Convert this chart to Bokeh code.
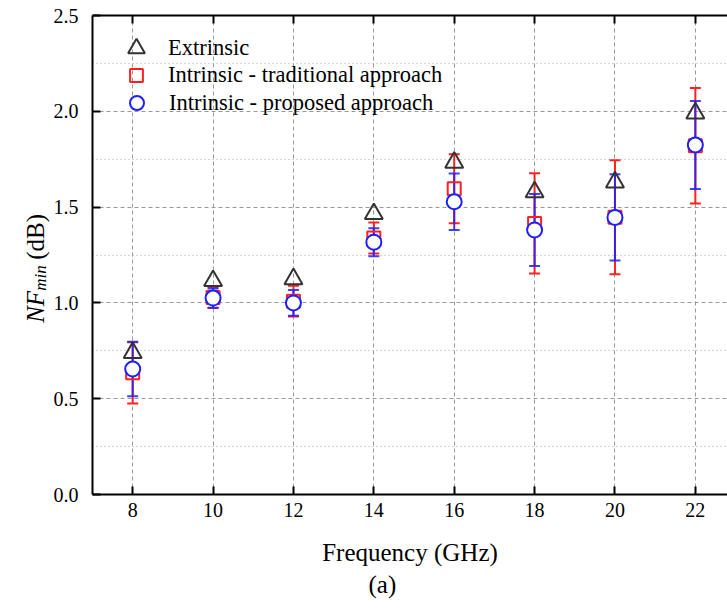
import numpy as np
from bokeh.plotting import figure
from bokeh.layouts import row
from bokeh.models import (Range1d, LinearAxis, FixedTicker, Whisker, TeeHead,
                          ColumnDataSource, Legend, LegendItem, Label, Title)
from bokeh.embed import file_html
from bokeh.resources import INLINE

# ---- data ----
freq = [8, 10, 12, 14, 16, 18, 20, 22]
extrinsic = [0.74, 1.115, 1.125, 1.465, 1.733, 1.578, 1.630, 1.990]
trad = [0.635, 1.028, 1.009, 1.339, 1.596, 1.415, 1.447, 1.820]
trad_err = [0.160, 0.055, 0.080, 0.081, 0.180, 0.262, 0.298, 0.301]
prop = [0.655, 1.025, 1.000, 1.317, 1.528, 1.381, 1.446, 1.824]
prop_err = [0.142, 0.050, 0.067, 0.073, 0.147, 0.188, 0.225, 0.230]

x_ticks = [8, 10, 12, 14, 16, 18, 20, 22]
y_ticks = [0.0, 0.5, 1.0, 1.5, 2.0, 2.5]
y_minor = [0.25, 0.75, 1.25, 1.75, 2.25]

RED = "#ff2020"
BLUE = "#2020ff"
BLACK = "#333333"
FONT = "Liberation Serif"
H = 606
BT, BB = 15, 112  # top / bottom borders

# ---- main plot ----
p = figure(width=677, height=H, x_range=Range1d(7.0, 22.8), y_range=Range1d(0, 2.5),
           output_backend="svg", toolbar_location=None,
           min_border_left=39, min_border_right=0, min_border_top=BT, min_border_bottom=BB)
p.outline_line_color = None
p.background_fill_color = "white"
p.border_fill_color = "white"

bottom = p.below[0]
left = p.left[0]
bottom.ticker = FixedTicker(ticks=x_ticks, minor_ticks=[])
left.ticker = FixedTicker(ticks=y_ticks, minor_ticks=y_minor)
left.major_label_overrides = {v: f"{v:.1f}" for v in y_ticks}

top = LinearAxis(ticker=FixedTicker(ticks=x_ticks, minor_ticks=[]),
                 major_label_text_font_size="0px", major_label_standoff=0,
                 major_label_overrides={v: "" for v in x_ticks})
p.add_layout(top, "above")

for ax in [bottom, left, top]:
    ax.axis_line_width = 2
    ax.axis_line_color = "black"
    ax.major_tick_line_width = 2
    ax.major_tick_line_color = "black"
    ax.major_tick_in = 8
    ax.major_tick_out = 0
    ax.minor_tick_line_color = None
    ax.major_label_text_font = FONT
    ax.major_label_text_color = "black"

for ax in [bottom, left]:
    ax.major_label_text_font_size = "20px"
left.major_label_standoff = 10
bottom.major_label_standoff = 8

bottom.axis_label = "Frequency (GHz)"
bottom.axis_label_text_font = FONT
bottom.axis_label_text_font_style = "normal"
bottom.axis_label_text_font_size = "25px"
bottom.axis_label_text_color = "black"
bottom.axis_label_standoff = 19

p.xgrid.grid_line_color = "#999999"
p.xgrid.grid_line_dash = "4 3"
p.ygrid.grid_line_color = "#999999"
p.ygrid.grid_line_dash = "4 3"
p.ygrid.minor_grid_line_color = "#aaaaaa"
p.ygrid.minor_grid_line_dash = "1 3"

# ---- error bars ----
src_t = ColumnDataSource(dict(x=freq,
                              upper=[v + e for v, e in zip(trad, trad_err)],
                              lower=[v - e for v, e in zip(trad, trad_err)]))
src_p = ColumnDataSource(dict(x=freq,
                              upper=[v + e for v, e in zip(prop, prop_err)],
                              lower=[v - e for v, e in zip(prop, prop_err)]))
p.add_layout(Whisker(base="x", upper="upper", lower="lower", source=src_t,
                     line_color=RED, line_width=2,
                     upper_head=TeeHead(size=11, line_color=RED, line_width=2),
                     lower_head=TeeHead(size=11, line_color=RED, line_width=2)))
p.add_layout(Whisker(base="x", upper="upper", lower="lower", source=src_p,
                     line_color=BLUE, line_width=2, line_alpha=0.85,
                     upper_head=TeeHead(size=11, line_color=BLUE, line_width=2, line_alpha=0.85),
                     lower_head=TeeHead(size=11, line_color=BLUE, line_width=2, line_alpha=0.85)))

# ---- markers ----
r_ext = p.scatter(freq, extrinsic, marker="triangle", size=18, line_color=BLACK,
                  fill_color=None, line_width=2)
r_trad = p.scatter(freq, trad, marker="square", size=13, line_color=RED,
                   fill_color=None, line_width=2)
r_prop = p.scatter(freq, prop, marker="circle", size=15, line_color=BLUE,
                   fill_color="white", line_width=2)

# ---- legend (one per item so each key keeps its own size) ----
def make_legend(label, rend, gsize, loc, standoff):
    return Legend(items=[LegendItem(label=label, renderers=[rend])], location=loc,
                  glyph_width=gsize, glyph_height=gsize, label_standoff=standoff,
                  padding=0, spacing=0, margin=0, border_line_color=None,
                  background_fill_alpha=0, label_text_font=FONT,
                  label_text_font_size="22.5px", label_text_color="black")

p.add_layout(make_legend("Extrinsic", r_ext, 42, (23, 425), 11))
p.add_layout(make_legend("Intrinsic - traditional approach", r_trad, 32, (28, 403), 16))
p.add_layout(make_legend("Intrinsic - proposed approach", r_prop, 35, (27, 374), 15))

# ---- caption (a) ----
p.add_layout(Title(text="(a)", align="left", offset=276, text_font=FONT,
                   text_font_size="25px", text_font_style="normal",
                   text_color="black", standoff=0), "below")

# ---- y axis title: NF_min (dB), in a narrow side panel sharing the y range ----
yfig = figure(width=50, height=H, x_range=Range1d(0, 50), y_range=p.y_range,
              output_backend="svg", toolbar_location=None,
              x_axis_type=None, y_axis_type=None,
              min_border_left=0, min_border_right=0, min_border_top=BT, min_border_bottom=BB)
yfig.outline_line_color = None
yfig.grid.visible = False
yfig.background_fill_color = "white"
yfig.border_fill_color = "white"

common = dict(x_units="screen", y_units="data", angle=np.pi / 2, text_font=FONT,
              text_color="black", text_align="left", text_baseline="middle")
yfig.add_layout(Label(x=35, y=0.896, text="NF", text_font_style="italic",
                      text_font_size="25px", **common))
yfig.add_layout(Label(x=40, y=1.063, text="min", text_font_style="italic",
                      text_font_size="17px", **common))
yfig.add_layout(Label(x=35, y=1.225, text="(dB)", text_font_style="normal",
                      text_font_size="25px", **common))

layout = row(yfig, p, spacing=0)
open("out.html", "w").write(file_html(layout, INLINE))
